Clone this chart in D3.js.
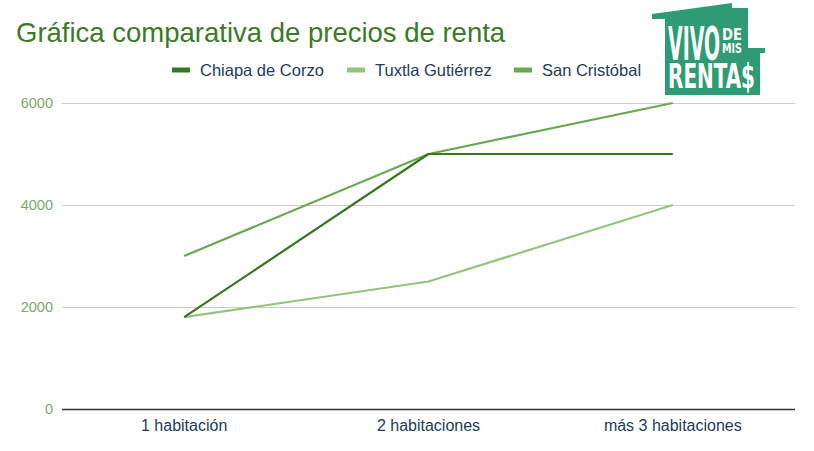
<!DOCTYPE html>
<html>
<head>
<meta charset="utf-8">
<script src="https://cdn.jsdelivr.net/npm/d3@7"></script>
<style>
  body { margin: 0; background: #fff; }
</style>
</head>
<body>
<script>
  // Data
  const categories = ["1 habitación", "2 habitaciones", "más 3 habitaciones"];
  const seriesNames = ["Chiapa de Corzo", "Tuxtla Gutiérrez", "San Cristóbal"];
  const chiapa = [1800, 5000, 5000];
  const tuxtla = [1800, 2500, 4000];
  const sanCristobal = [3000, 5000, 6000];
  const yTicks = [0, 2000, 4000, 6000];

  const series = [
    { name: seriesNames[0], values: chiapa, color: "#38761d" },
    { name: seriesNames[1], values: tuxtla, color: "#93c47d" },
    { name: seriesNames[2], values: sanCristobal, color: "#6aa84f" }
  ];

  const width = 814;
  const height = 451;
  const margin = { top: 103, right: 19, bottom: 42, left: 62 };

  const svg = d3.select("body").append("svg")
    .attr("width", width)
    .attr("height", height)
    .style("font-family", "Arial, 'Liberation Sans', sans-serif");

  const x = d3.scaleBand()
    .domain(categories)
    .range([margin.left, width - margin.right]);

  const y = d3.scaleLinear()
    .domain([0, 6000])
    .range([height - margin.bottom, margin.top]);

  // Gridlines
  svg.append("g")
    .selectAll("line")
    .data(yTicks.filter(d => d > 0))
    .join("line")
    .attr("x1", margin.left)
    .attr("x2", width - margin.right)
    .attr("y1", d => y(d) + 0.5)
    .attr("y2", d => y(d) + 0.5)
    .attr("stroke", "#cccccc")
    .attr("stroke-width", 1);

  // Y labels
  svg.append("g")
    .selectAll("text")
    .data(yTicks)
    .join("text")
    .attr("x", 53)
    .attr("y", d => y(d) + 5)
    .attr("text-anchor", "end")
    .attr("fill", "#7da86b")
    .style("font-size", "14.5px")
    .text(d => d);

  // X labels
  svg.append("g")
    .selectAll("text")
    .data(categories)
    .join("text")
    .attr("x", d => x(d) + x.bandwidth() / 2)
    .attr("y", 431)
    .attr("text-anchor", "middle")
    .attr("fill", "#213d57")
    .style("font-size", "16px")
    .text(d => d);

  // Lines
  const line = d3.line()
    .x((d, i) => x(categories[i]) + x.bandwidth() / 2)
    .y(d => y(d));

  svg.append("g")
    .selectAll("path")
    .data([series[2], series[1], series[0]])
    .join("path")
    .attr("d", d => line(d.values))
    .attr("fill", "none")
    .attr("stroke", d => d.color)
    .attr("stroke-width", 2.2)
    .attr("stroke-linejoin", "round");

  // Baseline
  svg.append("line")
    .attr("x1", margin.left)
    .attr("x2", width - margin.right)
    .attr("y1", y(0) + 0.5)
    .attr("y2", y(0) + 0.5)
    .attr("stroke", "#333")
    .attr("stroke-width", 1.3);

  // Title
  svg.append("text")
    .attr("x", 16)
    .attr("y", 42)
    .attr("fill", "#3b7a26")
    .style("font-size", "27.5px")
    .text("Gráfica comparativa de precios de renta");

  // Legend
  const legendX = [172, 347, 514];
  const legend = svg.append("g")
    .selectAll("g")
    .data(series)
    .join("g")
    .attr("transform", (d, i) => `translate(${legendX[i]}, 70)`);

  legend.append("rect")
    .attr("x", 0)
    .attr("y", -2.5)
    .attr("width", 18)
    .attr("height", 5)
    .attr("fill", d => d.color);

  legend.append("text")
    .attr("x", 28)
    .attr("y", 6)
    .attr("fill", "#213d57")
    .style("font-size", "16.5px")
    .text(d => d.name);

  // Logo
  const logo = svg.append("g");
  logo.append("path")
    .attr("d", "M652,14 L732,3 L732,8 L748,8 L748,48 L765,48 L765,53 L760,53 L760,95 L665,95 L665,19 L652,19 Z")
    .attr("fill", "#2e9b74");
  const logoFont = "'DejaVu Sans Condensed', 'Liberation Sans Narrow', sans-serif";
  logo.append("text")
    .attr("x", 668).attr("y", 60)
    .attr("textLength", 52).attr("lengthAdjust", "spacingAndGlyphs")
    .attr("fill", "#fff").style("font-size", "46px").style("font-weight", "bold")
    .style("font-family", logoFont)
    .text("VIVO");
  logo.append("text")
    .attr("x", 722).attr("y", 40)
    .attr("textLength", 20).attr("lengthAdjust", "spacingAndGlyphs")
    .attr("fill", "#fff").style("font-size", "15px").style("font-weight", "bold")
    .style("font-family", logoFont)
    .text("DE");
  logo.append("text")
    .attr("x", 722).attr("y", 53)
    .attr("textLength", 20).attr("lengthAdjust", "spacingAndGlyphs")
    .attr("fill", "#fff").style("font-size", "14px").style("font-weight", "bold")
    .style("font-family", logoFont)
    .text("MIS");
  logo.append("text")
    .attr("x", 668).attr("y", 88)
    .attr("textLength", 87).attr("lengthAdjust", "spacingAndGlyphs")
    .attr("fill", "#fff").style("font-size", "33px").style("font-weight", "bold")
    .style("font-family", logoFont)
    .text("RENTA$");
</script>
</body>
</html>
